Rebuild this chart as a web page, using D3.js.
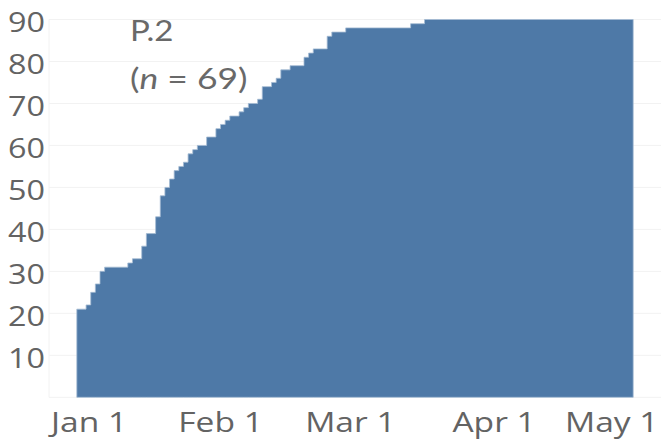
<!DOCTYPE html>
<html>
<head>
<meta charset="utf-8">
<script src="https://cdn.jsdelivr.net/npm/d3@7"></script>
<style>
  body { margin: 0; background: #fff; }
  #chart { width: 661px; height: 439px; }
</style>
</head>
<body>
<div id="chart"></div>
<script>
// days on which the cumulative count changed, and the count from that day on
const stepDates = [
    '2021-01-01', '2021-01-03', '2021-01-04', '2021-01-05', '2021-01-06', '2021-01-07',
    '2021-01-12', '2021-01-13', '2021-01-15', '2021-01-16', '2021-01-18', '2021-01-19',
    '2021-01-20', '2021-01-21', '2021-01-22', '2021-01-23', '2021-01-24', '2021-01-25',
    '2021-01-26', '2021-01-27', '2021-01-29', '2021-01-31', '2021-02-01', '2021-02-02',
    '2021-02-03', '2021-02-05', '2021-02-06', '2021-02-07', '2021-02-09', '2021-02-10',
    '2021-02-12', '2021-02-13', '2021-02-14', '2021-02-16', '2021-02-19', '2021-02-20',
    '2021-02-21', '2021-02-24', '2021-02-25', '2021-02-28', '2021-03-14', '2021-03-17',
    '2021-05-01'
];
const stepCounts = [
    21, 22, 25, 27, 30, 31,
    32, 33, 36, 39, 43, 48,
    50, 52, 54, 55, 56, 58,
    59, 60, 62, 64, 65, 66,
    67, 68, 69, 70, 71, 74,
    75, 76, 78, 79, 81, 82,
    83, 86, 87, 88, 89, 90,
    90
];
const yTicks = [10, 20, 30, 40, 50, 60, 70, 80, 90];
const xTicks = ['2021-01-01', '2021-02-01', '2021-03-01', '2021-04-01', '2021-05-01'];
const xDomain = ['2020-12-26', '2021-05-07'];

const parse = d3.timeParse('%Y-%m-%d');
const data = stepDates.map((d, i) => ({ date: parse(d), value: stepCounts[i] }));

const width = 661, height = 439;
const margin = { left: 49, right: 661, top: 19.5, bottom: 397.3 };
const textColor = '#636363';
const stretchK = 1.22; // the reference glyphs are wider than the installed fonts

const svg = d3.select('#chart').append('svg')
    .attr('width', width)
    .attr('height', height);

const x = d3.scaleTime()
    .domain(xDomain.map(parse))
    .range([margin.left, margin.right]);

const y = d3.scaleLinear()
    .domain([0, 90])
    .range([margin.bottom, margin.top]);

function stretch(node, k) {
    const w = node.getComputedTextLength();
    d3.select(node).attr('textLength', w * k).attr('lengthAdjust', 'spacingAndGlyphs');
    return w * k;
}

// faint grid
svg.append('g')
    .selectAll('line')
    .data([0].concat(yTicks))
    .enter()
    .append('line')
    .attr('x1', margin.left)
    .attr('x2', margin.right)
    .attr('y1', d => y(d))
    .attr('y2', d => y(d))
    .attr('stroke', '#f2f2f2')
    .attr('stroke-width', 1);

svg.append('line')
    .attr('x1', margin.left).attr('x2', margin.left)
    .attr('y1', margin.top).attr('y2', margin.bottom)
    .attr('stroke', '#f2f2f2');

const area = d3.area()
    .curve(d3.curveStepAfter)
    .x(d => x(d.date))
    .y0(y(0))
    .y1(d => y(d.value));

svg.append('path')
    .datum(data)
    .attr('d', area)
    .attr('fill', '#4e79a7')
    .attr('stroke', '#a4bbd3')
    .attr('stroke-width', 0.8);

// y labels
svg.append('g')
    .selectAll('text')
    .data(yTicks)
    .enter()
    .append('text')
    .text(d => d)
    .attr('y', d => y(d) + 12.8)
    .attr('font-family', 'Open Sans')
    .attr('font-size', '26.5px')
    .attr('fill', textColor)
    .each(function(d) {
        const w = stretch(this, stretchK);
        d3.select(this).attr('x', 45 - w);
    });

// x labels, kept inside the pane like the original
svg.append('g')
    .selectAll('text')
    .data(xTicks)
    .enter()
    .append('text')
    .text(d => d3.timeFormat('%b %-d')(parse(d)))
    .attr('y', 432)
    .attr('font-family', 'Open Sans')
    .attr('font-size', '27.5px')
    .attr('fill', textColor)
    .each(function(d) {
        const w = stretch(this, stretchK);
        let lx = x(parse(d)) - w / 2;
        lx = Math.max(51, Math.min(lx, 658.5 - w));
        d3.select(this).attr('x', lx);
    });

// annotation
const note = svg.append('g')
    .attr('font-family', 'Lato')
    .attr('font-size', '29.5px')
    .attr('fill', '#696969');

const t1 = note.append('text')
    .attr('x', 130)
    .attr('y', 40.5)
    .text('P.2');
stretch(t1.node(), 1.12);

const t2 = note.append('text')
    .attr('x', 130)
    .attr('y', 88.5);
t2.append('tspan').text('(');
t2.append('tspan').attr('font-style', 'italic').text('n');
t2.append('tspan').text(' = 69)');
stretch(t2.node(), 1.2);
</script>
</body>
</html>
